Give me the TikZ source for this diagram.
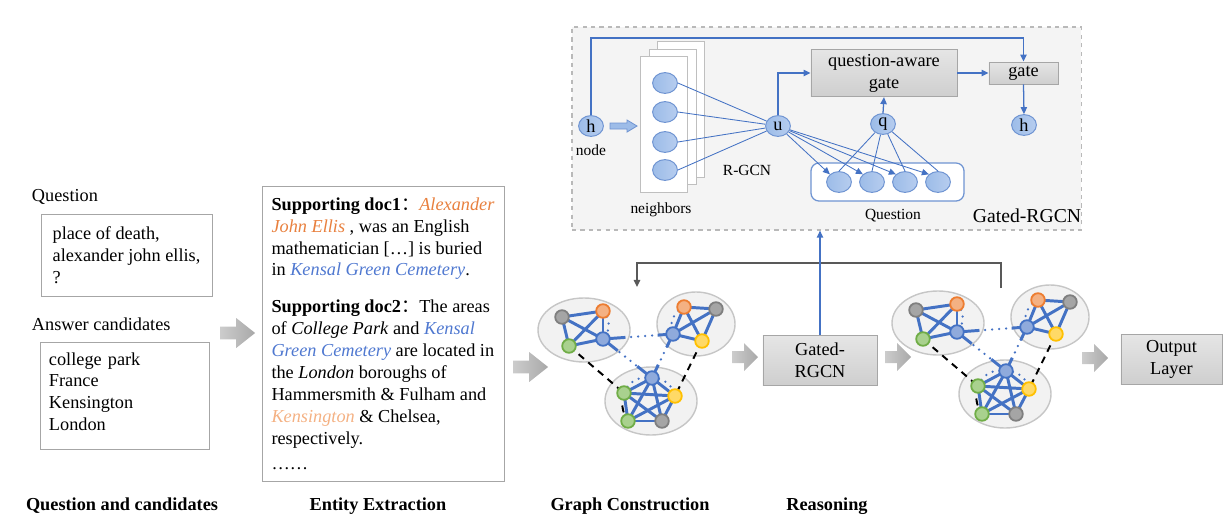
\documentclass[tikz,border=0pt]{standalone}
\usepackage{fontspec}
\setmainfont{Liberation Serif}
\newfontfamily\cjk{Noto Sans CJK SC}
\usetikzlibrary{shapes.geometric,arrows.meta,calc}

\definecolor{edgeblue}{HTML}{4472C4}
\definecolor{nodefill}{HTML}{9DBCE8}
\definecolor{nodefilltwo}{HTML}{B6CDEF}
\definecolor{nodeline}{HTML}{6F94D2}
\definecolor{docorange}{HTML}{E8803E}
\definecolor{doclightorange}{HTML}{F4B183}
\definecolor{docblue}{HTML}{4F78D0}
\definecolor{fbgray}{HTML}{595959}
\definecolor{grayfill}{HTML}{A5A5A5}
\definecolor{grayline}{HTML}{7F7F7F}
\definecolor{orangefill}{HTML}{F4B183}
\definecolor{orangeline}{HTML}{ED7D31}
\definecolor{bluefill}{HTML}{8FAADC}
\definecolor{blueline}{HTML}{4472C4}
\definecolor{greenfill}{HTML}{A9D18E}
\definecolor{greenline}{HTML}{70AD47}
\definecolor{yellowfill}{HTML}{FFD966}
\definecolor{yellowline}{HTML}{FFC000}

\tikzset{
  >={Triangle[length=5pt,width=4.5pt]},
  blob/.style={ellipse, draw=nodeline, line width=0.7pt, left color=nodefill, right color=nodefilltwo, minimum width=0.62cm, minimum height=0.52cm, inner sep=0pt},
  smalltext/.style={font=\fontsize{11}{13}\selectfont},
  txtbox/.style={rectangle, draw=gray!70, line width=0.6pt, align=left},
  graybox/.style={rectangle, draw=gray!70, line width=0.6pt, top color=gray!20, bottom color=gray!38, align=center},
  dashbox/.style={rectangle, draw=gray!55, fill=gray!9, dashed, line width=0.8pt},
  page/.style={rectangle, draw=gray!50, fill=white, line width=0.7pt, minimum width=1.175cm, minimum height=3.375cm},
  qframe/.style={rectangle, rounded corners=0.2cm, draw=nodeline, fill=white, line width=0.9pt, minimum width=3.825cm, minimum height=0.95cm},
  bline/.style={draw=edgeblue, line width=0.9pt},
  thinline/.style={draw=edgeblue, line width=0.6pt},
  fbline/.style={draw=fbgray, line width=1.3pt},
  cluster/.style={ellipse, draw=gray!45, fill=gray!10, line width=1pt},
  gnode/.style={circle, draw=#1line, fill=#1fill, line width=1.3pt, minimum size=0.34cm, inner sep=0pt},
  gedge/.style={draw=edgeblue, line width=2.1pt},
  gdot/.style={draw=edgeblue, line width=1.8pt, line cap=round, dash pattern=on 0pt off 5pt},
  gdash/.style={draw=black, line width=1.4pt, dash pattern=on 5pt off 4pt},
  steplabel/.style={font=\fontsize{13}{15.6}\selectfont\bfseries},
  fatarrow/.pic={
    \shade[left color=gray!40, right color=gray!68] (0,-6) -- (12,-6) -- (12,-14) -- (26,0) -- (12,14) -- (12,6) -- (0,6) -- cycle;
  },
  lightarrow/.pic={
    \filldraw[fill=nodefill, draw=nodeline, line width=0.6pt] (0,-3) -- (17,-3) -- (17,-6) -- (27,0) -- (17,6) -- (17,3) -- (0,3) -- cycle;
  }
}

\begin{document}
\begin{tikzpicture}[x=0.025cm, y=-0.025cm, font=\fontsize{13}{15.6}\selectfont]
\useasboundingbox (0,0) rectangle (1232,528);

% question and candidates
\node[anchor=west] (qhead) at (27,197) {Question};
\node[txtbox, minimum width=4.275cm, minimum height=2.05cm] (qbox) at (126.5,255) {place of death,\\alexander john ellis,\\?};
\node[anchor=west] (ahead) at (27,324) {Answer candidates};
\node[txtbox, text width=3.775cm, inner xsep=0.225cm, minimum height=2.675cm] (abox) at (124.5,395.5) {college park\\France\\Kensington\\London\\[-10pt]\mbox{}};
\pic[xscale=1.35, yscale=1.07] at (220,333) {fatarrow};

% entity extraction
\node[txtbox, minimum width=6.05cm, minimum height=7.375cm] (docs) at (383,333.5) {%
\textbf{Supporting doc1}{\cjk ：}\textcolor{docorange}{\textit{Alexander}}\\
\textcolor{docorange}{\textit{John Ellis}} , was an English\\
mathematician […] is buried\\
in \textcolor{docblue}{\textit{Kensal Green Cemetery}}.\\[0.375cm]
\textbf{Supporting doc2}{\cjk ：}The areas\\
of \textit{College Park} and \textcolor{docblue}{\textit{Kensal}}\\
\textcolor{docblue}{\textit{Green Cemetery}} are located in\\
the \textit{London} boroughs of\\
Hammersmith \& Fulham and\\
\textcolor{doclightorange}{\textit{Kensington}} \& Chelsea,\\
respectively.\\[2pt]
……};
\pic[xscale=1.35, yscale=1.07] at (513,367) {fatarrow};

% graphs (before and after reasoning)
\foreach \gn/\dx/\dy in {gl/0/0, gr/354/-7} {
\begin{scope}[shift={(\dx,\dy)}]
  \node[cluster, minimum width=2.3cm, minimum height=1.6cm] (\gn-ca) at (584,330) {};
  \node[cluster, minimum width=1.95cm, minimum height=1.6cm] (\gn-cb) at (696,324) {};
  \node[cluster, minimum width=2.3cm, minimum height=1.7cm] (\gn-cc) at (651,401) {};
  \foreach \p/\x/\y in {a1/562/317, a2/603/311, a3/603/339, a4/569/346,
      b1/684/307, b2/716/309, b3/673/334, b4/702/341,
      c1/652/378, c2/624/393, c3/675/396, c4/628/421, c5/662/421}
    \coordinate (\gn-\p) at (\x,\y);
  \foreach \s/\t in {a1/a2, a1/a3, a1/a4, a2/a3, a2/a4, a3/a4,
      b1/b2, b1/b3, b1/b4, b2/b3, b2/b4, b3/b4,
      c1/c2, c1/c3, c1/c4, c1/c5, c2/c3, c2/c4, c2/c5, c3/c4, c3/c5, c4/c5}
    \draw[gedge] (\gn-\s) -- (\gn-\t);
  % links between documents
  \draw[gdot] (\gn-a3) -- (\gn-b3);
  \draw[gdot] (\gn-a3) -- (\gn-c1);
  \draw[gdot] (\gn-b3) -- (\gn-c1);
  \draw[gedge] (\gn-a3) -- ($(\gn-a3)!0.32!(\gn-b3)$);
  \draw[gedge] (\gn-b3) -- ($(\gn-b3)!0.22!(\gn-a3)$);
  \draw[gedge] (\gn-a3) -- ($(\gn-a3)!0.3!(\gn-c1)$);
  \draw[gedge] (\gn-c1) -- ($(\gn-c1)!0.3!(\gn-a3)$);
  \draw[gedge] (\gn-b3) -- ($(\gn-b3)!0.3!(\gn-c1)$);
  \draw[gedge] (\gn-c1) -- ($(\gn-c1)!0.3!(\gn-b3)$);
  \draw[gdot] (\gn-a2) to[bend left=45] (\gn-a3);
  \draw[gdot] (\gn-b1) to[bend right=45] (\gn-b3);
  \draw[gdot] (\gn-c2) to[bend left=40] (\gn-c1);
  \draw[gdot] (\gn-c1) to[bend left=40] (\gn-c3);
  % candidate links
  \draw[gdash] (\gn-a4) -- (\gn-c2);
  \draw[gdash] (\gn-b4) -- (\gn-c3);
  \draw[gdash] (\gn-c2) to[bend right=25] (\gn-c4);
  \foreach \p/\c in {a1/gray, a2/orange, a3/blue, a4/green, b1/orange, b2/gray,
      b3/blue, b4/yellow, c1/blue, c2/green, c3/yellow, c4/green, c5/gray}
    \node[gnode=\c] (\gn-\p-dot) at (\gn-\p) {};
\end{scope}
}

% reasoning
\pic at (732,357) {fatarrow};
\node[graybox, minimum width=2.85cm, minimum height=1.25cm] (gated) at (820,360) {Gated-\\RGCN};
\pic at (885,357) {fatarrow};
\pic at (1082,358) {fatarrow};
\node[graybox, minimum width=2.525cm, minimum height=1.25cm] (output) at (1171.5,359) {Output\\Layer};

\coordinate (fbfrom) at (1001,288);
\coordinate (fbto) at (637,287);
\draw[fbline,->] (fbfrom) -- ++(0,-25) -| (fbto);

% gated-rgcn panel
\node[dashbox, minimum width=12.725cm, minimum height=5.075cm] (panel) at (826.5,128.5) {};
\draw[bline,->] (gated.north) -- (gated.north |- panel.south);

\node[page] (pg3) at (680.5,109.5) {};
\node[page] (pg2) at (672.5,117) {};
\node[page] (pg1) at (663.5,124.5) {};
\foreach \i/\y in {1/83, 2/112, 3/142, 4/170}
  \node[blob] (nb\i) at (665,\y) {};
\node[smalltext] (nblbl) at (661,210) {neighbors};

\node[blob] (hin) at (591,126) {h};
\node[smalltext] (nodelbl) at (591,150) {node};
\pic at (610,126) {lightarrow};
\node[blob] (u) at (778,126) {u};
\node[smalltext] (rgcn) at (747,170) {R-GCN};
\node[graybox, minimum width=3.65cm, minimum height=1.15cm] (qagate) at (884,73) {question-aware\\gate};
\node[graybox, minimum width=1.725cm, minimum height=0.55cm, inner sep=0pt] (gate) at (1023.5,73) {gate};
\node[blob] (hout) at (1024,125) {h};
\node[blob] (q) at (883,124) {q};
\node[qframe] (qwords) at (887.5,182) {};
\foreach \i/\x in {1/839, 2/872, 3/905, 4/938}
  \node[blob] (qw\i) at (\x,182) {};
\node[smalltext] (qlbl) at (893,216) {Question};
\node[font=\fontsize{14}{16}\selectfont] (panellbl) at (1027,216) {Gated-RGCN};

\coordinate (skip) at (591,38);
\draw[bline,->] (hin.north) -- (skip) -| (gate.north);
\draw[bline,->] (u.north) |- (qagate.west);
\draw[bline,->] (qagate.east) -- (gate.west);
\draw[bline,->] (gate.south) -- (hout.north);
\draw[bline,->] (q.north) -- (qagate.south);
\foreach \i in {1,...,4} {
  \draw[thinline] (nb\i.east) -- (u);
  \draw[thinline,->] (u) -- (qw\i.north west);
  \draw[thinline] (q) -- (qw\i.north);
}

% step labels
\node[steplabel] (lbla) at (122,506) {Question and candidates};
\node[steplabel] (lblb) at (378,506) {Entity Extraction};
\node[steplabel] (lblc) at (630,506) {Graph Construction};
\node[steplabel] (lbld) at (827,506) {Reasoning};
\end{tikzpicture}
\end{document}
